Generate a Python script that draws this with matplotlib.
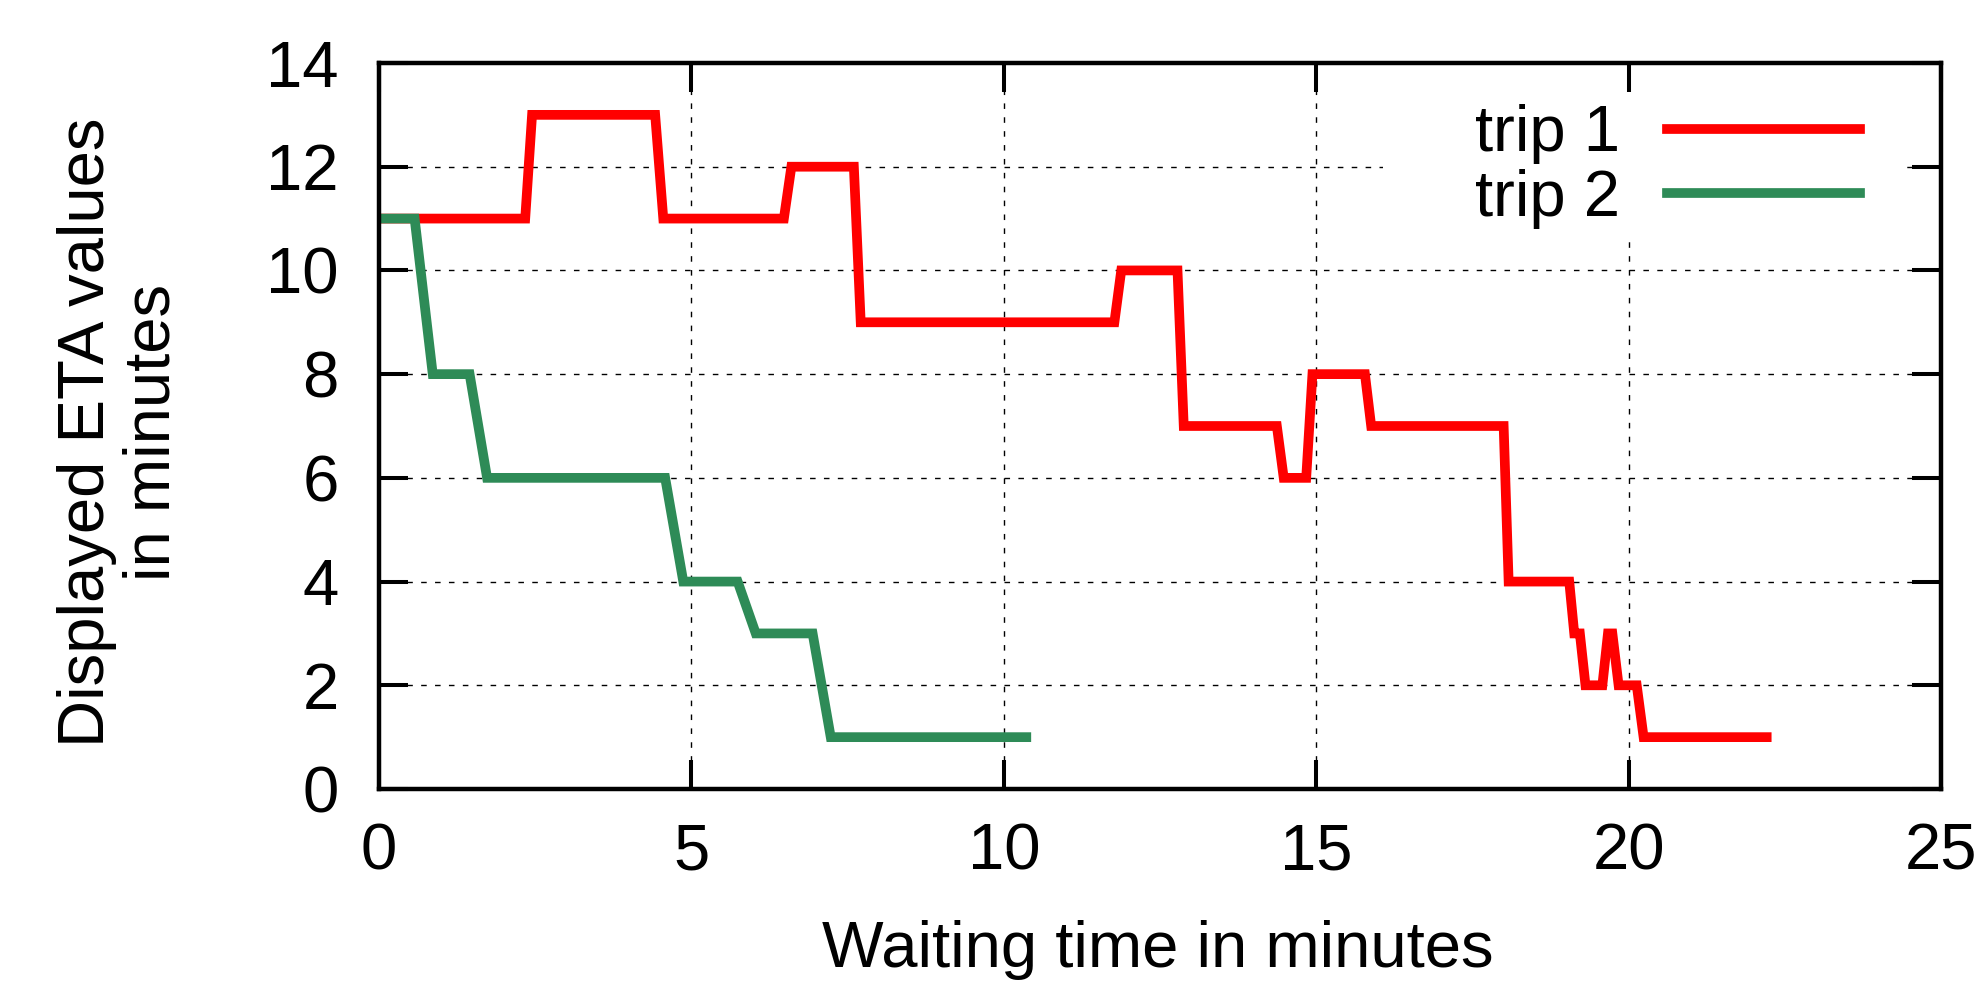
import matplotlib
matplotlib.use('Agg')
import matplotlib.pyplot as plt
from matplotlib.patches import Rectangle

# step data (waiting time [min], displayed ETA [min])
trip1_t = [0, 2.34, 2.45, 4.42, 4.55, 6.48, 6.60, 7.60, 7.71, 11.77, 11.88, 12.78,
           12.88, 14.37, 14.48, 14.84, 14.94, 15.78, 15.88, 18.00, 18.08, 19.05,
           19.13, 19.22, 19.31, 19.58, 19.67, 19.74, 19.84, 20.13, 20.24, 22.21]
trip1_eta = [11, 11, 13, 13, 11, 11, 12, 12, 9, 9, 10, 10,
             7, 7, 6, 6, 8, 8, 7, 7, 4, 4,
             3, 3, 2, 2, 3, 3, 2, 2, 1, 1]

trip2_t = [0, 0.57, 0.86, 1.45, 1.73, 4.58, 4.87, 5.74, 6.03, 6.94, 7.23, 10.36]
trip2_eta = [11, 11, 8, 8, 6, 6, 4, 4, 3, 3, 1, 1]

x_ticks = [0, 5, 10, 15, 20, 25]
y_ticks = [0, 2, 4, 6, 8, 10, 12, 14]

plt.rcParams['font.family'] = ['Liberation Sans', 'DejaVu Sans']
FS = 47

fig = plt.figure(figsize=(19.82, 9.85), dpi=100)
rect = [379 / 1982, 1 - 789 / 985, (1941 - 379) / 1982, (789 - 63) / 985]
ax = fig.add_axes(rect)

ax.plot(trip1_t, trip1_eta, color='#ff0000', lw=7, label='trip 1', solid_joinstyle='miter')
ax.plot(trip2_t, trip2_eta, color='#2e8b57', lw=7, label='trip 2', solid_joinstyle='miter')

ax.set_xlim(0, 25)
ax.set_ylim(0, 14)
ax.set_xticks(x_ticks)
ax.set_yticks(y_ticks)
ax.grid(True, color='black', lw=1.0, linestyle=(0, (4, 6)))
ax.tick_params(length=0, labelsize=FS)
ax.tick_params(axis='y', pad=29)
ax.tick_params(axis='x', pad=24)
for s in ax.spines.values():
    s.set_visible(False)

# opaque key area (hides the grid behind the legend, like gnuplot's opaque key)
ax.add_patch(Rectangle((0.643, 0.763), 0.332, 0.237, transform=ax.transAxes,
                       facecolor='white', edgecolor='none', zorder=1.8))
ax.legend(loc='upper right', bbox_to_anchor=(0.948, 0.943), fontsize=FS,
          markerfirst=False, handlelength=2.95, handletextpad=0.72,
          labelspacing=0.07, borderpad=0, borderaxespad=0, frameon=False)

# overlay axes: frame and ticks drawn above everything
top = fig.add_axes(rect, sharex=ax, sharey=ax, facecolor='none')
top.tick_params(direction='in', length=21, width=2.9, top=True, right=True,
                labelbottom=False, labelleft=False)
for s in top.spines.values():
    s.set_linewidth(3.2)

fig.text(1158 / 1982, 1 - 967 / 985, 'Waiting time in minutes', fontsize=FS,
         ha='center', va='baseline')
fig.text(120 / 1982, 1 - 432 / 985, 'Displayed ETA values\nin minutes', fontsize=FS,
         ha='center', va='center', rotation=90, multialignment='center', linespacing=1.12)

fig.savefig('out.png', dpi=100)
print("Saved out.png")
